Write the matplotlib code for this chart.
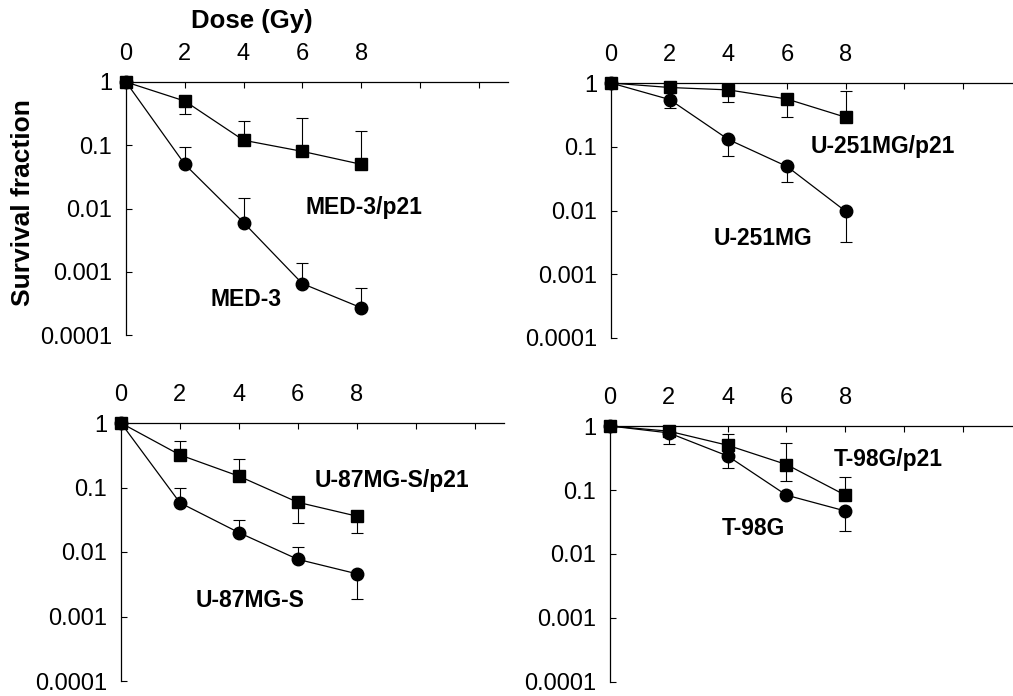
import numpy as np
import matplotlib
matplotlib.use("Agg")
import matplotlib.pyplot as plt

plt.rcParams['font.family'] = ['Liberation Sans', 'DejaVu Sans']

# dose points (Gy)
dose = [0, 2, 4, 6, 8]
nan = np.nan

# MED-3 panel
med3_p21 = [1, 0.5, 0.12, 0.08, 0.05]
med3_p21_up = [nan, nan, 0.24, 0.27, 0.17]
med3_p21_dn = [nan, 0.31, nan, nan, nan]
med3 = [1, 0.05, 0.006, 0.00065, 0.00027]
med3_up = [nan, 0.095, 0.0145, 0.0014, 0.00055]
med3_dn = [nan, nan, nan, nan, nan]

# U-251MG panel
u251_p21 = [1, 0.85, 0.78, 0.56, 0.29]
u251_p21_up = [nan, nan, nan, nan, 0.74]
u251_p21_dn = [nan, nan, 0.5, 0.29, nan]
u251 = [1, 0.55, 0.13, 0.049, 0.0097]
u251_up = [nan, nan, nan, nan, nan]
u251_dn = [nan, 0.4, 0.072, 0.028, 0.0032]

# U-87MG-S panel
u87_p21 = [1, 0.32, 0.15, 0.059, 0.036]
u87_p21_up = [nan, 0.53, 0.28, nan, nan]
u87_p21_dn = [nan, nan, nan, 0.028, 0.02]
u87 = [1, 0.058, 0.02, 0.0077, 0.0046]
u87_up = [nan, 0.1, 0.031, 0.012, nan]
u87_dn = [nan, nan, nan, nan, 0.0019]

# T-98G panel
t98_p21 = [1, 0.83, 0.5, 0.25, 0.083]
t98_p21_up = [nan, nan, 0.75, 0.55, 0.16]
t98_p21_dn = [nan, nan, nan, 0.14, nan]
t98 = [1, 0.78, 0.34, 0.083, 0.047]
t98_up = [nan, nan, nan, nan, nan]
t98_dn = [nan, 0.52, 0.22, nan, 0.023]

# axes rectangles in pixels: left, top, right, bottom, xmax
W, H = 1013, 696
panels = [
    ((126, 82, 508, 335, 13.0),
     (med3_p21, med3_p21_up, med3_p21_dn, 'MED-3/p21', (8.1, 0.0102)),
     (med3, med3_up, med3_dn, 'MED-3', (4.07, 0.00036))),
    ((611, 83, 1013, 338, 13.7),
     (u251_p21, u251_p21_up, u251_p21_dn, 'U-251MG/p21', (9.25, 0.102)),
     (u251, u251_up, u251_dn, 'U-251MG', (5.17, 0.0037))),
    ((121, 423, 504, 681, 13.0),
     (u87_p21, u87_p21_up, u87_p21_dn, 'U-87MG-S/p21', (9.2, 0.13)),
     (u87, u87_up, u87_dn, 'U-87MG-S', (4.37, 0.0018))),
    ((610, 426, 1013, 682, 13.7),
     (t98_p21, t98_p21_up, t98_p21_dn, 'T-98G/p21', (9.45, 0.3)),
     (t98, t98_up, t98_dn, 'T-98G', (4.86, 0.025))),
]

fig = plt.figure(figsize=(W / 100, H / 100), dpi=100)


def draw_series(ax, vals, up, dn, marker, ms):
    vals = np.array(vals, float)
    up = np.array(up, float)
    dn = np.array(dn, float)
    hi = np.where(np.isnan(up), 0, up - vals)
    lo = np.where(np.isnan(dn), 0, vals - dn)
    ax.errorbar(dose, vals, yerr=[lo, hi], fmt='none', ecolor='black',
                elinewidth=0.8, capsize=4, capthick=0.8, zorder=2)
    ax.plot(dose, vals, color='black', lw=0.9, marker=marker, ms=ms,
            mfc='black', mec='black', zorder=3, clip_on=False)


for rect, sq, ci in panels:
    l, t, r, b, xmax = rect
    ax = fig.add_axes([l / W, 1 - b / H, (r - l) / W, (b - t) / H])
    ax.set_yscale('log')
    ax.set_ylim(1e-4, 1)
    ax.set_xlim(0, xmax)
    for s in ['bottom', 'right']:
        ax.spines[s].set_visible(False)
    for s in ['top', 'left']:
        ax.spines[s].set_linewidth(0.9)
    ax.xaxis.set_ticks_position('top')
    ax.set_xticks([0, 2, 4, 6, 8, 10, 12])
    ax.set_xticklabels(['0', '2', '4', '6', '8', '', ''])
    ax.set_yticks([1e-4, 1e-3, 1e-2, 1e-1, 1])
    ax.set_yticklabels(['0.0001', '0.001', '0.01', '0.1', '1'])
    ax.minorticks_off()
    ax.tick_params(axis='x', direction='in', length=4, width=0.8,
                   labelsize=17, pad=12)
    ax.tick_params(axis='y', direction='in', length=4, width=0.8,
                   labelsize=17, pad=10)
    ax.patch.set_visible(False)

    draw_series(ax, *sq[:3], marker='s', ms=8.5)
    draw_series(ax, *ci[:3], marker='o', ms=9)
    for series in (sq, ci):
        name, (tx, ty) = series[3], series[4]
        ax.text(tx, ty, name, fontsize=16.5, fontweight='bold',
                ha='center', va='center')

fig.text(252 / W, 1 - 21 / H, 'Dose (Gy)', fontsize=18.5, fontweight='bold',
         ha='center', va='center')
fig.text(23 / W, 1 - 203 / H, 'Survival fraction', fontsize=19,
         fontweight='bold', rotation=90, ha='center', va='center')

fig.savefig('out.png', dpi=100)
